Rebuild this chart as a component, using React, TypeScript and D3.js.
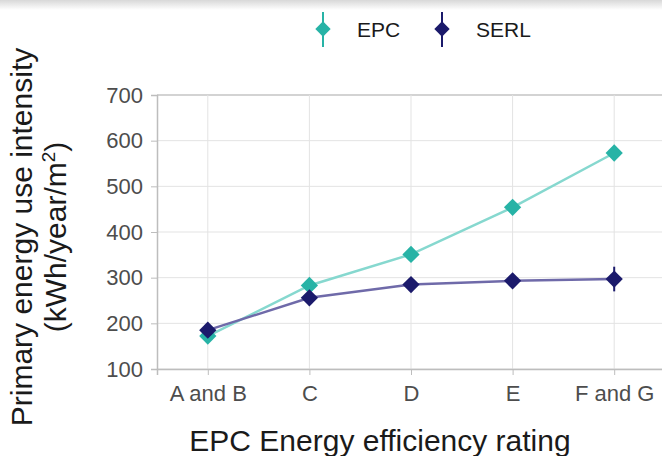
import { useEffect, useRef } from 'react';
import * as d3 from 'd3';

const ratings = ['A and B', 'C', 'D', 'E', 'F and G'];
const epcValues = [172, 283, 351, 454, 573];
const serlValues = [185, 256, 285, 293, 297];
const serlLow = [180, 250, 280, 287, 270];
const serlHigh = [190, 262, 290, 299, 324];
const yTicks = [100, 200, 300, 400, 500, 600, 700];

const App = () => {
  const svgRef = useRef<SVGSVGElement>(null);

  useEffect(() => {
    const width = 662;
    const height = 456;
    const margin = { top: 95, right: -3, bottom: 87, left: 157 };
    const font = '"Liberation Sans", Arial, sans-serif';

    const svg = d3.select(svgRef.current)
      .attr('width', width)
      .attr('height', height)
      .style('font-family', font);
    svg.selectAll('*').remove();

    // faint shadow at the very top of the screenshot
    const defs = svg.append('defs');
    const grad = defs.append('linearGradient')
      .attr('id', 'topShade')
      .attr('x1', 0).attr('y1', 0).attr('x2', 0).attr('y2', 1);
    grad.append('stop').attr('offset', '0%').attr('stop-color', '#d8d8d8');
    grad.append('stop').attr('offset', '100%').attr('stop-color', '#ffffff');
    svg.append('rect').attr('width', width).attr('height', height).attr('fill', '#fff');
    svg.append('rect').attr('width', width).attr('height', 10).attr('fill', 'url(#topShade)');

    const x = d3.scalePoint()
      .domain(ratings)
      .range([margin.left, width - margin.right])
      .padding(0.5);

    const y = d3.scaleLinear()
      .domain([100, 700])
      .range([height - margin.bottom, margin.top]);

    // grid
    svg.append('g')
      .selectAll('line')
      .data(yTicks)
      .enter().append('line')
      .attr('x1', margin.left)
      .attr('x2', width)
      .attr('y1', d => y(d))
      .attr('y2', d => y(d))
      .attr('stroke', d => d === 700 ? '#c4c4c4' : '#e3e3e3')
      .attr('stroke-width', d => d === 700 ? 1.5 : 1);

    svg.append('g')
      .selectAll('line')
      .data(ratings)
      .enter().append('line')
      .attr('x1', d => x(d)!)
      .attr('x2', d => x(d)!)
      .attr('y1', margin.top)
      .attr('y2', height - margin.bottom)
      .attr('stroke', '#e3e3e3')
      .attr('stroke-width', 1);

    // axes
    const yAxis = svg.append('g')
      .attr('transform', `translate(${margin.left},0)`)
      .call(d3.axisLeft(y).tickValues(yTicks).tickSize(6).tickPadding(8));
    yAxis.select('.domain').attr('stroke', '#bdbdbd').attr('stroke-width', 1.5);
    yAxis.selectAll('.tick line').attr('stroke', '#bdbdbd');
    yAxis.selectAll('.tick text')
      .attr('fill', '#4d4d4d')
      .style('font-size', '22px')
      .style('font-family', font);

    const xAxis = svg.append('g')
      .attr('transform', `translate(0,${height - margin.bottom})`)
      .call(d3.axisBottom(x).tickSize(6).tickPadding(10));
    xAxis.select('.domain').attr('stroke', '#bdbdbd').attr('stroke-width', 1.5);
    xAxis.selectAll('.tick line').attr('stroke', '#bdbdbd');
    xAxis.selectAll('.tick text')
      .attr('fill', '#4d4d4d')
      .style('font-size', '22px')
      .style('font-family', font);

    const series = [
      { name: 'EPC', values: epcValues, low: null as number[] | null, high: null as number[] | null, line: '#86d8cf', fill: '#27b3a6' },
      { name: 'SERL', values: serlValues, low: serlLow, high: serlHigh, line: '#6f6aa9', fill: '#1b1a6b' },
    ];

    const line = d3.line<number>()
      .x((_, i) => x(ratings[i])!)
      .y(d => y(d));

    const diamond = d3.symbol().type(d3.symbolDiamond2).size(190);

    series.forEach(s => {
      svg.append('path')
        .attr('fill', 'none')
        .attr('stroke', s.line)
        .attr('stroke-width', 2.5)
        .attr('d', line(s.values));

      if (s.low && s.high) {
        svg.append('g')
          .selectAll('line')
          .data(s.values)
          .enter().append('line')
          .attr('x1', (_, i) => x(ratings[i])!)
          .attr('x2', (_, i) => x(ratings[i])!)
          .attr('y1', (_, i) => y(s.low![i]))
          .attr('y2', (_, i) => y(s.high![i]))
          .attr('stroke', s.fill)
          .attr('stroke-width', 2);
      }

      svg.append('g')
        .selectAll('path')
        .data(s.values)
        .enter().append('path')
        .attr('d', diamond)
        .attr('transform', (d, i) => `translate(${x(ratings[i])},${y(d)})`)
        .attr('fill', s.fill);
    });

    // legend
    const legendX = [323, 442];
    const legend = svg.append('g')
      .selectAll('g')
      .data(series)
      .enter().append('g')
      .attr('transform', (_, i) => `translate(${legendX[i]},29)`);
    legend.append('line')
      .attr('y1', -17).attr('y2', 18)
      .attr('stroke', d => d.fill)
      .attr('stroke-width', 2);
    legend.append('path')
      .attr('d', d3.symbol().type(d3.symbolDiamond2).size(150))
      .attr('fill', d => d.fill);
    legend.append('text')
      .attr('x', 34)
      .attr('y', 8)
      .attr('fill', '#1a1a1a')
      .style('font-size', '21px')
      .text(d => d.name);

    // axis titles
    const yTitle = svg.append('text')
      .attr('transform', `translate(32,237) rotate(-90)`)
      .attr('text-anchor', 'middle')
      .attr('fill', '#1a1a1a')
      .style('font-size', '30px');
    yTitle.append('tspan').attr('x', 0).attr('dy', 0).text('Primary energy use intensity');
    const l2 = yTitle.append('tspan').attr('x', 0).attr('dy', 34);
    l2.append('tspan').text('(kWh/year/m');
    l2.append('tspan').attr('dy', -11).style('font-size', '19px').text('2');
    l2.append('tspan').attr('dy', 11).text(')');

    svg.append('text')
      .attr('x', 380)
      .attr('y', 451)
      .attr('text-anchor', 'middle')
      .attr('fill', '#1a1a1a')
      .style('font-size', '30px')
      .text('EPC Energy efficiency rating');
  }, []);

  return (
    <div>
      <svg ref={svgRef} style={{ position: 'absolute', left: 0, top: 0 }} />
    </div>
  );
};

export default App;
